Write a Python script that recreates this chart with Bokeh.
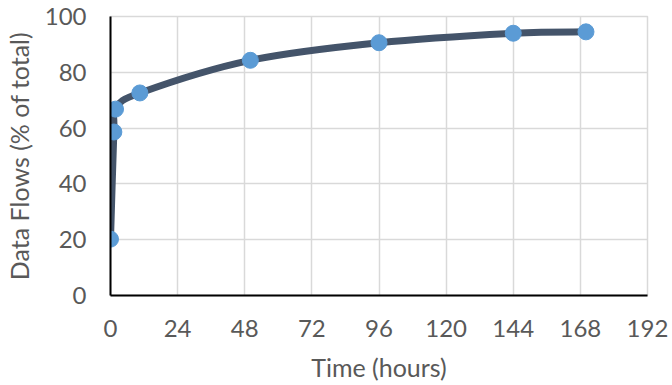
from bokeh.plotting import figure
from bokeh.models import FixedTicker, Range1d
from bokeh.embed import file_html
from bokeh.resources import INLINE

# Data
hours = [0, 1.2, 1.8, 10.5, 50, 96, 144, 170]
flows = [20.2, 58.6, 66.8, 72.6, 84.3, 90.6, 94.0, 94.5]
x_ticks = [0, 24, 48, 72, 96, 120, 144, 168, 192]
y_ticks = [0, 20, 40, 60, 80, 100]

LINE = "#44546A"
MARK = "#5B9BD5"
TXT = "#595959"
GRID = "#D9D9D9"
FONT = "Lato"

p = figure(width=668, height=384, output_backend="svg", toolbar_location=None,
           x_range=Range1d(0, 192), y_range=Range1d(0, 100),
           min_border_left=110, min_border_right=21, min_border_top=16, min_border_bottom=88)

# Smoothed line (Catmull-Rom style Bezier segments like Excel's smoothed line)
n = len(hours)
x0, y0, x1, y1, cx0, cy0, cx1, cy1 = [], [], [], [], [], [], [], []
for i in range(n - 1):
    pm = i - 1 if i > 0 else i
    pp = i + 2 if i + 2 < n else i + 1
    x0.append(hours[i]); y0.append(flows[i])
    x1.append(hours[i + 1]); y1.append(flows[i + 1])
    cx0.append(hours[i] + (hours[i + 1] - hours[pm]) / 6)
    cy0.append(flows[i] + (flows[i + 1] - flows[pm]) / 6)
    cx1.append(hours[i + 1] - (hours[pp] - hours[i]) / 6)
    cy1.append(flows[i + 1] - (flows[pp] - flows[i]) / 6)

p.bezier(x0=x0, y0=y0, x1=x1, y1=y1, cx0=cx0, cy0=cy0, cx1=cx1, cy1=cy1,
         line_color=LINE, line_width=7, line_cap="round")
p.scatter(hours, flows, size=16, fill_color=MARK, line_color=MARK)

p.xaxis.ticker = FixedTicker(ticks=x_ticks)
p.yaxis.ticker = FixedTicker(ticks=y_ticks)
p.xgrid.ticker = FixedTicker(ticks=x_ticks)
p.ygrid.ticker = FixedTicker(ticks=y_ticks)
p.grid.grid_line_color = GRID
p.grid.grid_line_width = 1.5
p.outline_line_color = GRID
p.outline_line_width = 1.5

for ax in (p.xaxis, p.yaxis):
    ax.axis_line_color = "black"
    ax.axis_line_width = 2
    ax.major_tick_line_color = None
    ax.minor_tick_line_color = None
    ax.major_label_text_font = FONT
    ax.major_label_text_font_size = "24px"
    ax.major_label_text_color = TXT
    ax.axis_label_text_font = FONT
    ax.axis_label_text_font_size = "25px"
    ax.axis_label_text_color = TXT
    ax.axis_label_text_font_style = "normal"

p.xaxis.axis_label = "Time (hours)"
p.yaxis.axis_label = "Data Flows (% of total)"
p.xaxis.major_label_standoff = 18
p.yaxis.major_label_standoff = 18
p.xaxis.axis_label_standoff = 12
p.yaxis.axis_label_standoff = 8

open("out.html", "w").write(file_html(p, INLINE))
